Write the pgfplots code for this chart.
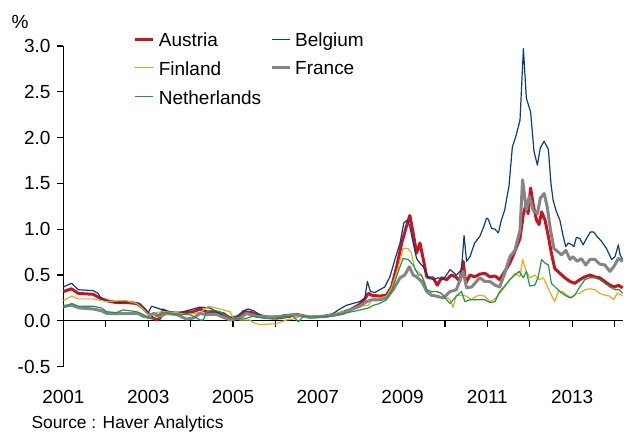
\documentclass[border=0pt]{standalone}
\usepackage{fontspec}
\setmainfont{Liberation Sans}
\usepackage{pgfplots}
\pgfplotsset{compat=1.18}

\definecolor{austria}{HTML}{C8141E}
\definecolor{belgium}{HTML}{0A3C82}
\definecolor{finland}{HTML}{E8A820}
\definecolor{france}{HTML}{858585}
\definecolor{netherl}{HTML}{1E9650}

\begin{document}
\begin{tikzpicture}
\begin{axis}[
    scale only axis,
    width=280pt, height=160.5pt,
    xmin=2001, xmax=2014.2,
    ymin=-0.5, ymax=3.0,
    axis x line=middle,
    axis y line=left,
    axis line style={-, black, line width=0.6pt},
    hide obscured x ticks=false,
    hide obscured y ticks=false,
    tick align=outside,
    major tick length=3pt,
    minor tick length=3pt,
    tick style={black, line width=0.6pt},
    xtick={2001,2003,2005,2007,2009,2011,2013},
    minor xtick={2002,2004,2006,2008,2010,2012,2014},
    xticklabels={2001,2003,2005,2007,2009,2011,2013},
    ytick={-0.5,0,0.5,1,1.5,2,2.5,3},
    yticklabels={-0.5,0.0,0.5,1.0,1.5,2.0,2.5,3.0},
    tick label style={font=\fontsize{9.5}{11}\selectfont},
    xticklabel style={anchor=center, yshift=-35pt},
    clip=false,
    legend columns=2,
    legend cell align=left,
    legend image code/.code={\draw[#1] (0pt,1pt) -- (9pt,1pt);},
    legend style={draw=none, fill=none, inner sep=0pt, outer sep=0pt,
        at={(0.1259,1)}, anchor=north west, yshift=8.6pt,
        font=\fontsize{9.5}{11}\selectfont,
        row sep=2pt,
        /tikz/every odd column/.append style={column sep=0pt},
        /tikz/every even column/.append style={column sep=2.5pt}},
    every axis plot/.append style={line join=round},
]
% Austria
\addplot[austria, line width=1.5pt] coordinates {
(2001.00,0.32)(2001.19,0.35)(2001.35,0.30)(2001.70,0.29)(2001.86,0.25)(2002.02,0.22)
(2002.25,0.20)(2002.49,0.20)(2002.73,0.19)(2002.88,0.14)(2003.00,0.08)(2003.12,0.03)
(2003.20,0.01)(2003.28,0.03)(2003.35,0.12)(2003.43,0.10)(2003.59,0.08)(2003.83,0.09)
(2004.06,0.10)(2004.22,0.13)(2004.38,0.10)(2004.61,0.09)(2004.77,0.08)(2004.93,0.03)
(2005.16,0.05)(2005.28,0.10)(2005.44,0.09)(2005.63,0.05)(2006.03,0.03)(2006.34,0.05)
(2006.50,0.07)(2006.81,0.04)(2007.13,0.05)(2007.44,0.07)(2007.76,0.12)(2007.99,0.18)
(2008.11,0.24)(2008.19,0.30)(2008.27,0.28)(2008.46,0.27)(2008.62,0.28)(2008.74,0.37)
(2008.86,0.59)(2008.98,0.85)(2009.09,1.03)(2009.17,1.15)(2009.25,0.96)(2009.33,0.74)
(2009.41,0.85)(2009.49,0.67)(2009.57,0.48)(2009.64,0.47)(2009.72,0.47)(2009.82,0.39)
(2009.92,0.47)(2010.04,0.45)(2010.15,0.50)(2010.26,0.48)(2010.35,0.43)(2010.43,0.65)
(2010.49,0.41)(2010.59,0.50)(2010.70,0.48)(2010.82,0.51)(2010.94,0.52)(2011.06,0.48)
(2011.18,0.49)(2011.29,0.45)(2011.41,0.54)(2011.53,0.63)(2011.65,0.76)(2011.77,0.90)
(2011.85,1.17)(2011.92,1.28)(2011.96,1.17)(2012.02,1.45)(2012.08,1.27)(2012.16,1.10)
(2012.22,1.05)(2012.28,1.19)(2012.36,1.10)(2012.44,0.92)(2012.51,0.74)(2012.59,0.57)
(2012.71,0.52)(2012.83,0.47)(2012.95,0.43)(2013.06,0.41)(2013.18,0.45)(2013.30,0.48)
(2013.42,0.50)(2013.54,0.48)(2013.65,0.47)(2013.77,0.43)(2013.89,0.39)(2014.01,0.37)
(2014.09,0.39)(2014.19,0.36)
};
\addlegendentry{Austria}
% Belgium
\addplot[belgium, line width=0.6pt] coordinates {
(2001.00,0.37)(2001.19,0.41)(2001.35,0.34)(2001.70,0.33)(2001.82,0.30)(2001.90,0.23)
(2002.10,0.21)(2002.33,0.20)(2002.57,0.21)(2002.80,0.19)(2003.00,0.09)(2003.08,0.16)
(2003.28,0.13)(2003.51,0.10)(2003.75,0.09)(2004.06,0.13)(2004.22,0.15)(2004.46,0.14)
(2004.61,0.10)(2004.93,0.01)(2005.08,0.04)(2005.24,0.11)(2005.36,0.13)(2005.48,0.11)
(2005.63,0.07)(2005.79,0.05)(2006.03,0.05)(2006.26,0.07)(2006.50,0.07)(2006.81,0.04)
(2007.13,0.05)(2007.36,0.08)(2007.52,0.13)(2007.68,0.17)(2007.83,0.19)(2007.99,0.21)
(2008.11,0.25)(2008.17,0.43)(2008.24,0.32)(2008.35,0.31)(2008.46,0.34)(2008.58,0.37)
(2008.70,0.48)(2008.82,0.67)(2008.94,0.85)(2009.03,1.07)(2009.11,1.10)(2009.17,1.03)
(2009.25,0.85)(2009.33,0.68)(2009.41,0.63)(2009.49,0.59)(2009.60,0.48)(2009.72,0.45)
(2009.84,0.47)(2009.96,0.45)(2010.12,0.56)(2010.27,0.50)(2010.39,0.56)(2010.45,0.93)
(2010.51,0.65)(2010.59,0.70)(2010.70,0.85)(2010.82,0.92)(2010.90,1.01)(2010.98,1.12)
(2011.02,1.11)(2011.10,1.01)(2011.18,1.00)(2011.26,0.96)(2011.33,1.10)(2011.41,1.21)
(2011.45,1.32)(2011.51,1.47)(2011.59,1.90)(2011.67,2.01)(2011.77,2.19)(2011.85,2.97)
(2011.92,2.43)(2012.02,2.28)(2012.10,1.85)(2012.18,1.70)(2012.25,1.89)(2012.34,1.96)
(2012.44,1.87)(2012.50,1.50)(2012.55,1.32)(2012.63,1.19)(2012.71,1.10)(2012.79,0.92)
(2012.85,0.81)(2012.91,0.85)(2012.99,0.83)(2013.04,0.81)(2013.10,0.91)(2013.18,0.90)
(2013.26,0.83)(2013.34,0.90)(2013.43,0.97)(2013.51,0.97)(2013.59,0.92)(2013.69,0.87)
(2013.81,0.79)(2013.93,0.67)(2014.01,0.70)(2014.09,0.83)(2014.13,0.72)(2014.19,0.67)
};
\addlegendentry{Belgium}
% Finland
\addplot[finland, line width=0.6pt] coordinates {
(2001.00,0.22)(2001.19,0.27)(2001.35,0.24)(2001.70,0.24)(2002.02,0.21)(2002.33,0.22)
(2002.49,0.22)(2002.73,0.19)(2002.88,0.13)(2003.00,0.07)(2003.16,0.09)(2003.35,0.10)
(2003.67,0.09)(2003.90,0.07)(2004.06,0.08)(2004.22,0.09)(2004.42,0.16)(2004.61,0.14)
(2004.69,0.13)(2004.93,0.10)(2005.01,0.03)(2005.16,0.01)(2005.40,0.01)(2005.48,-0.02)
(2005.63,-0.04)(2006.03,-0.03)(2006.26,0.01)(2006.42,0.02)(2006.58,0.05)(2006.81,0.05)
(2007.13,0.05)(2007.44,0.08)(2007.76,0.12)(2007.99,0.16)(2008.19,0.17)(2008.31,0.25)
(2008.46,0.25)(2008.62,0.27)(2008.74,0.36)(2008.90,0.59)(2009.01,0.79)(2009.13,0.79)
(2009.21,0.74)(2009.29,0.56)(2009.41,0.52)(2009.50,0.45)(2009.60,0.30)(2009.72,0.32)
(2009.84,0.32)(2009.96,0.28)(2010.12,0.23)(2010.19,0.15)(2010.27,0.28)(2010.39,0.28)
(2010.51,0.27)(2010.63,0.23)(2010.74,0.27)(2010.82,0.28)(2010.94,0.27)(2011.06,0.21)
(2011.18,0.24)(2011.29,0.30)(2011.41,0.37)(2011.53,0.45)(2011.65,0.52)(2011.77,0.48)
(2011.83,0.67)(2011.92,0.54)(2012.00,0.47)(2012.12,0.50)(2012.22,0.45)(2012.32,0.47)
(2012.40,0.39)(2012.49,0.30)(2012.59,0.21)(2012.67,0.32)(2012.77,0.32)(2012.88,0.28)
(2012.99,0.25)(2013.10,0.30)(2013.18,0.30)(2013.30,0.34)(2013.42,0.35)(2013.54,0.34)
(2013.65,0.30)(2013.77,0.28)(2013.89,0.27)(2013.98,0.23)(2014.06,0.30)(2014.13,0.29)
(2014.19,0.27)
};
\addlegendentry{Finland}
% France
\addplot[france, line width=1.5pt] coordinates {
(2001.00,0.16)(2001.19,0.17)(2001.39,0.14)(2001.70,0.13)(2001.90,0.11)(2002.02,0.08)
(2002.49,0.08)(2002.76,0.08)(2002.88,0.05)(2003.00,0.04)(2003.12,0.08)(2003.28,0.05)
(2003.43,0.08)(2003.67,0.07)(2003.90,0.02)(2004.06,0.03)(2004.22,0.08)(2004.38,0.07)
(2004.61,0.07)(2004.93,0.01)(2005.16,0.03)(2005.32,0.08)(2005.56,0.05)(2005.87,0.04)
(2006.19,0.05)(2006.42,0.07)(2006.81,0.04)(2007.21,0.05)(2007.60,0.08)(2007.76,0.12)
(2007.99,0.16)(2008.15,0.21)(2008.27,0.23)(2008.46,0.23)(2008.62,0.25)(2008.78,0.34)
(2008.94,0.47)(2009.05,0.50)(2009.16,0.59)(2009.25,0.50)(2009.33,0.48)(2009.45,0.43)
(2009.57,0.32)(2009.68,0.28)(2009.80,0.27)(2009.96,0.25)(2010.12,0.32)(2010.27,0.34)
(2010.43,0.54)(2010.51,0.36)(2010.63,0.37)(2010.78,0.45)(2010.82,0.47)(2010.94,0.43)
(2011.06,0.43)(2011.18,0.39)(2011.29,0.37)(2011.41,0.52)(2011.53,0.70)(2011.65,0.77)
(2011.77,0.99)(2011.83,1.54)(2011.92,1.21)(2011.99,1.36)(2012.08,1.21)(2012.18,1.17)
(2012.25,1.34)(2012.34,1.39)(2012.41,1.25)(2012.49,0.99)(2012.57,0.79)(2012.65,0.76)
(2012.75,0.72)(2012.85,0.77)(2012.95,0.67)(2013.02,0.70)(2013.12,0.65)(2013.22,0.68)
(2013.32,0.61)(2013.42,0.67)(2013.54,0.67)(2013.65,0.62)(2013.77,0.61)(2013.89,0.54)
(2013.98,0.59)(2014.09,0.68)(2014.19,0.65)
};
\addlegendentry{France}
% Netherlands
\addplot[netherl, line width=0.6pt] coordinates {
(2001.00,0.14)(2001.19,0.19)(2001.35,0.16)(2001.70,0.16)(2001.90,0.14)(2002.02,0.10)
(2002.25,0.09)(2002.41,0.12)(2002.73,0.10)(2002.88,0.07)(2003.00,0.03)(2003.12,0.02)
(2003.28,0.08)(2003.43,0.09)(2003.67,0.07)(2003.98,0.07)(2004.22,0.01)(2004.30,0.01)
(2004.38,0.10)(2004.53,0.12)(2004.69,0.10)(2004.93,0.03)(2005.24,0.02)(2005.48,0.05)
(2005.71,0.03)(2005.95,0.02)(2006.19,0.05)(2006.42,0.05)(2006.54,-0.01)(2006.66,0.05)
(2006.97,0.04)(2007.29,0.05)(2007.60,0.08)(2007.91,0.11)(2008.19,0.14)(2008.31,0.17)
(2008.46,0.19)(2008.62,0.23)(2008.74,0.32)(2008.90,0.54)(2009.01,0.68)(2009.13,0.67)
(2009.25,0.61)(2009.37,0.50)(2009.45,0.50)(2009.57,0.34)(2009.68,0.32)(2009.80,0.32)
(2009.92,0.30)(2010.04,0.23)(2010.12,0.19)(2010.27,0.27)(2010.39,0.32)(2010.47,0.21)
(2010.59,0.23)(2010.74,0.23)(2010.94,0.23)(2011.06,0.20)(2011.18,0.21)(2011.29,0.32)
(2011.41,0.38)(2011.53,0.45)(2011.65,0.50)(2011.75,0.54)(2011.85,0.47)(2011.92,0.54)
(2012.00,0.38)(2012.12,0.39)(2012.20,0.48)(2012.28,0.67)(2012.36,0.63)(2012.44,0.61)
(2012.51,0.41)(2012.62,0.36)(2012.71,0.32)(2012.83,0.28)(2012.95,0.25)(2013.06,0.28)
(2013.18,0.37)(2013.30,0.45)(2013.42,0.47)(2013.54,0.47)(2013.65,0.45)(2013.77,0.41)
(2013.89,0.37)(2014.01,0.34)(2014.11,0.34)(2014.19,0.30)
};
\addlegendentry{Netherlands}
\coordinate (bl) at (rel axis cs:0,0);
\coordinate (tl) at (rel axis cs:0,1);
\coordinate (tr) at (rel axis cs:1,1);
\end{axis}
\node[font=\fontsize{9.5}{11}\selectfont] at ([xshift=-21.75pt,yshift=12pt]tl) {\%};
\node[anchor=west, font=\fontsize{8.7}{10}\selectfont] at ([xshift=-19.5pt,yshift=-28.5pt]bl) {Source : Haver Analytics};
\pgfresetboundingbox
\path[use as bounding box] ([xshift=-31.75pt,yshift=-34.5pt]bl) rectangle ([xshift=0.5pt,yshift=23pt]tr);
\end{tikzpicture}
\end{document}
